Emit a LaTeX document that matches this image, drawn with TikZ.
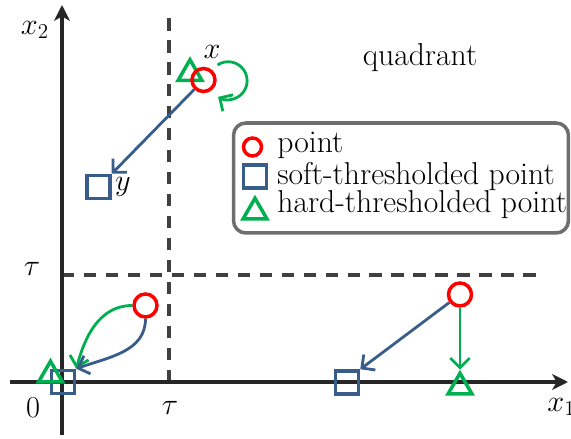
\documentclass[tikz,border=0pt]{standalone}
\usepackage{fontspec}
\usepackage{xcolor}
\usepackage{tikz}
\usetikzlibrary{arrows.meta,calc,shapes.geometric}
\definecolor{ptc}{HTML}{FF0000}
\definecolor{softc}{HTML}{385D8A}
\definecolor{hardc}{HTML}{00B050}
\definecolor{axc}{HTML}{262626}
\definecolor{dshc}{HTML}{404040}
\definecolor{framec}{HTML}{6E6E6E}
\tikzset{
  pnt/.style={circle,draw=ptc,line width=2pt,minimum size=0.46cm,inner sep=0pt},
  sq/.style={rectangle,draw=softc,line width=2pt,minimum size=0.46cm,inner sep=0pt},
  tri/.style={regular polygon,regular polygon sides=3,draw=hardc,line width=2pt,minimum size=0.55cm,inner sep=0pt},
  axis/.style={-{Stealth[length=9pt,width=9pt,inset=2.5pt]},line width=2pt,axc},
  thr/.style={dash pattern=on 7pt off 5.5pt,line width=1.8pt,dshc},
  sarr/.style={-{Straight Barb[length=5.5pt,width=11pt]},line width=1.6pt,softc},
  harr/.style={-{Straight Barb[length=5.5pt,width=11pt]},line width=1.6pt,hardc},
  lbl/.style={font=\fontsize{18}{21}\selectfont,inner sep=0pt},
  legtxt/.style={lbl,anchor=base west,text depth=0pt},
  legbox/.style={draw=framec,line width=2pt,rounded corners=7pt,minimum width=6.7cm,minimum height=2.2cm},
}

\begin{document}
\begin{tikzpicture}[x=0.02cm,y=0.02cm]
\useasboundingbox (0,0) rectangle (571,439);
\draw[thr] (169,57) -- (169,424);
\draw[thr] (62,164) -- (545,164);
\draw[axis] (10,57) -- (568,57);
\draw[axis] (62,4) -- (62,434);
\node[lbl] (lx2) at (35,409) {$x_2$};
\node[lbl,anchor=west] (lx1) at (547,32) {$x_1$};
\node[lbl] (ltl) at (32,170) {$\tau$};
\node[lbl] (ltb) at (170,31) {$\tau$};
\node[lbl] (l0) at (33,31) {$0$};
\node[lbl] (lq) at (420,381) {quadrant};

\node[tri] (t1) at (190,365.5) {};
\node[pnt] (p1) at (203.5,359) {};
\node[sq] (s1) at (98.5,252) {};
\node[lbl] (lx) at (212,387) {$x$};
\node[lbl] (ly) at (123,252) {$y$};
\draw[sarr] (p1) -- (s1.north east);
\coordinate (l1) at ($(p1)+(14,15)$);
\draw[harr] (l1) arc[start angle=124,end angle=-122,radius=19];

\node[legbox] (leg) at (401,261) {};
\node[pnt,minimum size=0.36cm] (lp) at (252.5,292) {};
\node[sq] (ls) at (255,262.5) {};
\node[tri] (lt) at (255,227) {};
\node[legtxt] (tp) at (277,286) {point};
\node[legtxt] (ts) at (277,254) {soft-thresholded point};
\node[legtxt] (th) at (277,226) {hard-thresholded point};

\node[pnt] (p2) at (145.5,133.5) {};
\node[sq] (s2) at (63,57) {};
\node[tri] (t2) at (50.5,64) {};
\draw[harr] (p2.west) to[out=180,in=75] (s2.north east);
\draw[sarr] (p2.south) to[out=-90,in=20] (s2.north east);

\node[pnt] (p3) at (460,144.5) {};
\node[sq] (s3) at (347,56.5) {};
\node[tri] (t3) at (460,52) {};
\draw[sarr] (p3) -- (s3.north east);
\draw[harr] (p3) -- (t3.north);
\end{tikzpicture}
\end{document}
